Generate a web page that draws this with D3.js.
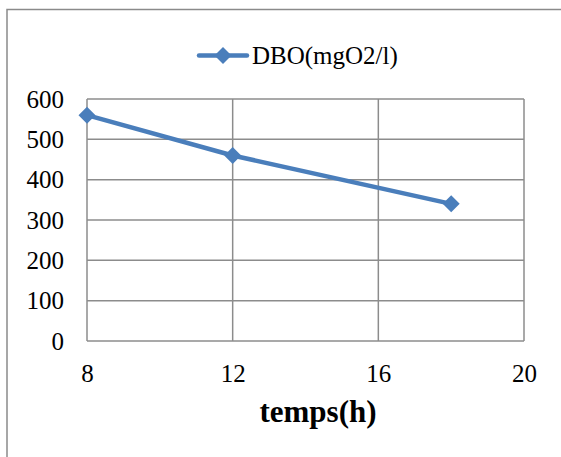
<!DOCTYPE html>
<html>
<head>
<meta charset="utf-8">
<script src="https://cdn.jsdelivr.net/npm/d3@7"></script>
<style>
  html, body { margin: 0; padding: 0; background: #fff; }
  svg { display: block; }
</style>
</head>
<body>
<svg id="chart" width="561" height="457"></svg>
<script>
// DBO over time
const hours = [8, 12, 18];
const dbo = [560, 460, 340];
const xTicks = [8, 12, 16, 20];
const yTicks = [0, 100, 200, 300, 400, 500, 600];
const seriesName = "DBO(mgO2/l)";
const xTitle = "temps(h)";

const svg = d3.select("#chart");
const W = 561, H = 457;
const blue = "#4a7ebb";
const grid = "#8c8c8c";
const font = "'Liberation Serif', 'Times New Roman', serif";

// Chart frame
svg.append("rect")
  .attr("x", 7).attr("y", 9.5)
  .attr("width", W + 10).attr("height", H + 10)
  .attr("fill", "#fff").attr("stroke", "#8a8a8a").attr("stroke-width", 1.5);

const plot = { left: 87, right: 524, top: 99, bottom: 341 };

const x = d3.scaleLinear().domain([8, 20]).range([plot.left, plot.right]);
const y = d3.scaleLinear().domain([0, 600]).range([plot.bottom, plot.top]);

// Horizontal gridlines
svg.append("g")
  .selectAll("line")
  .data(yTicks)
  .join("line")
  .attr("x1", plot.left).attr("x2", plot.right)
  .attr("y1", d => y(d)).attr("y2", d => y(d))
  .attr("stroke", grid).attr("stroke-width", 1.5);

// Vertical gridlines
svg.append("g")
  .selectAll("line")
  .data(xTicks)
  .join("line")
  .attr("x1", d => x(d)).attr("x2", d => x(d))
  .attr("y1", plot.top).attr("y2", plot.bottom)
  .attr("stroke", grid).attr("stroke-width", 1.5);

// Y axis labels
const yAxis = d3.axisLeft(y).tickValues(yTicks).tickSize(0).tickPadding(23);
const gy = svg.append("g").attr("transform", `translate(${plot.left},0)`).call(yAxis);
gy.attr("font-family", font).attr("font-size", 25);
gy.select(".domain").remove();
gy.selectAll("text")
  .attr("font-family", font).attr("font-size", 25).attr("fill", "#000")
  .attr("dy", "0.33em");

// X axis labels
const xAxis = d3.axisBottom(x).tickValues(xTicks).tickSize(0).tickPadding(0);
const gx = svg.append("g").attr("transform", `translate(0,${plot.bottom})`).call(xAxis);
gx.attr("font-family", font).attr("font-size", 25);
gx.select(".domain").remove();
gx.selectAll("text")
  .attr("font-family", font).attr("font-size", 25).attr("fill", "#000")
  .attr("y", 41).attr("dy", 0);

// X axis title
svg.append("text")
  .attr("x", 318).attr("y", 422)
  .attr("text-anchor", "middle")
  .attr("font-family", font).attr("font-size", 31).attr("font-weight", "bold")
  .text(xTitle);

// Series line
const pts = hours.map((h, i) => [h, dbo[i]]);
svg.append("path")
  .datum(pts)
  .attr("fill", "none")
  .attr("stroke", blue).attr("stroke-width", 4.5)
  .attr("stroke-linejoin", "round")
  .attr("d", d3.line().x(d => x(d[0])).y(d => y(d[1])));

const diamondPath = "M0,-8.5L8.5,0L0,8.5L-8.5,0Z";
svg.append("g")
  .selectAll("path")
  .data(pts)
  .join("path")
  .attr("transform", d => `translate(${x(d[0])},${y(d[1])})`)
  .attr("d", diamondPath)
  .attr("fill", blue);

// Legend
const leg = svg.append("g");
leg.append("line")
  .attr("x1", 199).attr("x2", 247).attr("y1", 55.5).attr("y2", 55.5)
  .attr("stroke", blue).attr("stroke-width", 4.5).attr("stroke-linecap", "round");
leg.append("path")
  .attr("transform", "translate(223,55.5)")
  .attr("d", diamondPath)
  .attr("fill", blue);
leg.append("text")
  .attr("x", 252).attr("y", 64)
  .attr("font-family", font).attr("font-size", 25).attr("fill", "#000")
  .text(seriesName);
</script>
</body>
</html>
